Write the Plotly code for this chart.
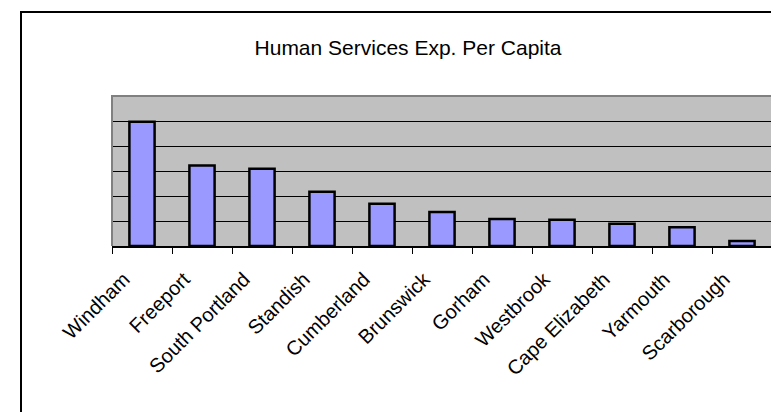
import plotly.graph_objects as go

towns = ["Windham", "Freeport", "South Portland", "Standish", "Cumberland",
         "Brunswick", "Gorham", "Westbrook", "Cape Elizabeth", "Yarmouth", "Scarborough"]
values = [4.97, 3.22, 3.09, 2.17, 1.69, 1.36, 1.08, 1.05, 0.89, 0.75, 0.20]
title_text = "Human Services Exp. Per Capita"

FONT = "Arial, Liberation Sans, sans-serif"

fig = go.Figure()
fig.add_trace(go.Bar(
    x=towns, y=values,
    marker=dict(color="#9999FF", line=dict(color="black", width=2.5)),
    hoverinfo="x+y",
))

fig.update_layout(
    width=779, height=412,
    margin=dict(l=104, r=15, t=88, b=174),
    paper_bgcolor="white",
    plot_bgcolor="#C0C0C0",
    bargap=0.58,
    showlegend=False,
    font=dict(family=FONT, color="black"),
    title=dict(text=title_text, font=dict(family=FONT, size=21, color="black"),
               x=0.5135, xref="container", xanchor="center",
               y=1 - 40 / 412, yref="container", yanchor="middle"),
    xaxis=dict(
        type="category",
        showline=True, linecolor="black", linewidth=1.5,
        ticks="outside", tickson="boundaries", ticklen=6, tickcolor="black", tickwidth=1,
        tickangle=-45, tickfont=dict(family=FONT, size=20, color="black"),
        ticklabelshift=-18, ticklabelstandoff=12,
        showgrid=False, zeroline=False,
    ),
    yaxis=dict(
        range=[0, 6], dtick=1, showticklabels=False, ticks="",
        showgrid=True, gridcolor="black", gridwidth=1,
        zeroline=False, showline=False,
    ),
    shapes=[
        dict(type="path", xref="paper", yref="paper",
             path="M 0 0 L 0 1 L 1 1 L 1 0",
             line=dict(color="#808080", width=2), layer="above"),
        dict(type="rect", xref="paper", yref="paper",
             x0=-91 / 660, x1=1.06, y0=-1.25, y1=(238 - 4) / 150,
             line=dict(color="black", width=2), layer="below"),
    ],
)

fig.write_html("out.html")
